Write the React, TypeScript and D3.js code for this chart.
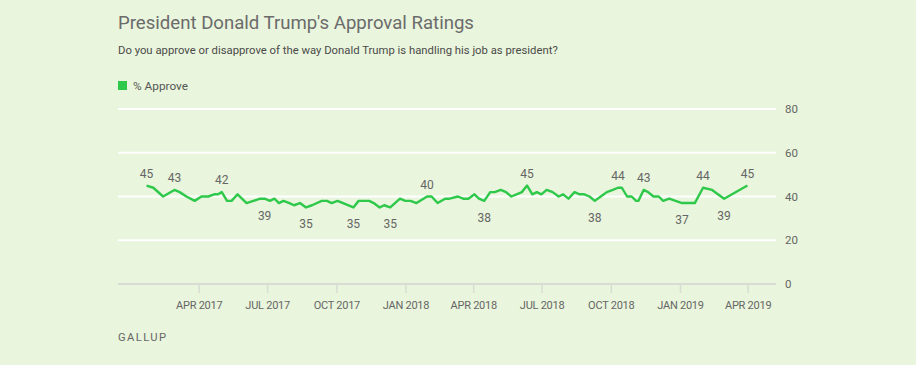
import * as d3 from "d3";

const dates = [
  "2017-01-21", "2017-01-30", "2017-02-12", "2017-02-27", "2017-03-06", "2017-03-15",
  "2017-03-26", "2017-04-04", "2017-04-13", "2017-04-21", "2017-04-26", "2017-05-01",
  "2017-05-08", "2017-05-14", "2017-05-22", "2017-06-03", "2017-06-21", "2017-06-27",
  "2017-07-04", "2017-07-10", "2017-07-16", "2017-07-22", "2017-07-30", "2017-08-05",
  "2017-08-13", "2017-08-21", "2017-08-29", "2017-09-11", "2017-09-18", "2017-09-24",
  "2017-10-02", "2017-10-23", "2017-10-30", "2017-11-13", "2017-11-19", "2017-11-27",
  "2017-12-03", "2017-12-11", "2017-12-24", "2017-12-31", "2018-01-07", "2018-01-15",
  "2018-01-29", "2018-02-04", "2018-02-12", "2018-02-22", "2018-02-28", "2018-03-11",
  "2018-03-18", "2018-03-25", "2018-04-02", "2018-04-08", "2018-04-15", "2018-04-23",
  "2018-04-29", "2018-05-07", "2018-05-14", "2018-05-21", "2018-05-28", "2018-06-04",
  "2018-06-11", "2018-06-18", "2018-06-24", "2018-06-30", "2018-07-07", "2018-07-15",
  "2018-07-23", "2018-07-29", "2018-08-05", "2018-08-13", "2018-08-20", "2018-08-26",
  "2018-09-02", "2018-09-09", "2018-09-17", "2018-09-25", "2018-10-03", "2018-10-10",
  "2018-10-15", "2018-10-22", "2018-10-28", "2018-11-03", "2018-11-06", "2018-11-13",
  "2018-11-19", "2018-11-26", "2018-12-03", "2018-12-09", "2018-12-17", "2019-01-03",
  "2019-01-20", "2019-01-31", "2019-02-12", "2019-02-28", "2019-03-31",
];

const approve = [
  45, 44, 40, 43, 42, 40,
  38, 40, 40, 41, 41, 42,
  38, 38, 41, 37, 39, 39,
  38, 39, 37, 38, 37, 36,
  37, 35, 36, 38, 38, 37,
  38, 35, 38, 38, 37, 35,
  36, 35, 39, 38, 38, 37,
  40, 40, 37, 39, 39, 40,
  39, 39, 41, 39, 38, 42,
  42, 43, 42, 40, 41, 42,
  45, 41, 42, 41, 43, 42,
  40, 41, 39, 42, 41, 41,
  40, 38, 40, 42, 43, 44,
  44, 40, 40, 38, 38, 43,
  42, 40, 40, 38, 39, 37,
  37, 44, 43, 39, 45,
];

// labelled points: date and whether the number sits above or below the line
const labelDates = [
  "2017-01-21", "2017-02-27", "2017-05-01", "2017-06-27", "2017-08-21", "2017-10-23",
  "2017-12-11", "2018-01-29", "2018-04-15", "2018-06-11", "2018-09-09", "2018-10-10",
  "2018-11-13", "2019-01-03", "2019-01-31", "2019-02-28", "2019-03-31",
];
const labelSide = [
  "up", "up", "up", "down", "down", "down",
  "down", "up", "down", "up", "down", "up",
  "up", "down", "up", "down", "up",
];

const yTicks = [0, 20, 40, 60, 80];
const xTicks = [
  "2017-04-01", "2017-07-01", "2017-10-01", "2018-01-01", "2018-04-01",
  "2018-07-01", "2018-10-01", "2019-01-01", "2019-04-01",
];

const W = 916;
const H = 365;
const GREEN = "#2ec84a";
const FONT = "Roboto, 'Noto Sans', sans-serif";

export default function App() {
  const parse = d3.timeParse("%Y-%m-%d");
  const series = dates.map((d, i) => ({ date: parse(d) as Date, value: approve[i] }));

  const x = d3
    .scaleTime()
    .domain([parse("2016-12-14") as Date, parse("2019-05-08") as Date])
    .range([118, 776]);
  const y = d3.scaleLinear().domain([0, 80]).range([284, 109]);

  const line = d3
    .line<{ date: Date; value: number }>()
    .x((d) => x(d.date))
    .y((d) => y(d.value));

  const fmt = d3.timeFormat("%b %Y");

  return (
    <>
      <style>{`body{margin:0;background:#e9f5dc}`}</style>
      <svg width={W} height={H} style={{ display: "block", fontFamily: FONT }}>
        <rect width={W} height={H} fill="#e9f5dc" />
        <text x={118} y={28.5} fontSize={18.6} fill="#6b6b6b">
          President Donald Trump's Approval Ratings
        </text>
        <text x={118} y={53.5} fontSize={11.3} fill="#4a4a4a">
          Do you approve or disapprove of the way Donald Trump is handling his job as president?
        </text>
        <rect x={118} y={81} width={9} height={9} fill={GREEN} />
        <text x={133} y={89.5} fontSize={11.8} fill="#555">
          % Approve
        </text>

        {yTicks.map((t) => (
          <g key={t}>
            <line
              x1={118}
              x2={776}
              y1={y(t)}
              y2={y(t)}
              stroke={t === 0 ? "#d8dcd2" : "#ffffff"}
              strokeWidth={2}
            />
            <text x={785} y={y(t) + 4} fontSize={11.5} fill="#666">
              {t}
            </text>
          </g>
        ))}

        {xTicks.map((t) => {
          const d = parse(t) as Date;
          return (
            <g key={t}>
              <line x1={x(d)} x2={x(d)} y1={284} y2={293} stroke="#d8dcd2" strokeWidth={1.5} />
              <text
                x={x(d)}
                y={309}
                fontSize={11}
                fill="#666"
                textAnchor="middle"
                letterSpacing={-0.25}
              >
                {fmt(d).toUpperCase()}
              </text>
            </g>
          );
        })}

        <path d={line(series) ?? ""} fill="none" stroke={GREEN} strokeWidth={2.4} strokeLinejoin="round" />

        {labelDates.map((ld, i) => {
          const idx = dates.indexOf(ld);
          if (idx < 0) return null;
          const pt = series[idx];
          const up = labelSide[i] === "up";
          return (
            <text
              key={ld}
              x={x(pt.date)}
              y={up ? y(pt.value) - 8 : y(pt.value) + 21}
              fontSize={12}
              fill="#666"
              textAnchor="middle"
            >
              {pt.value}
            </text>
          );
        })}

        <text x={118} y={341} fontSize={11.2} fill="#666" letterSpacing={1.4}>
          GALLUP
        </text>
      </svg>
    </>
  );
}
